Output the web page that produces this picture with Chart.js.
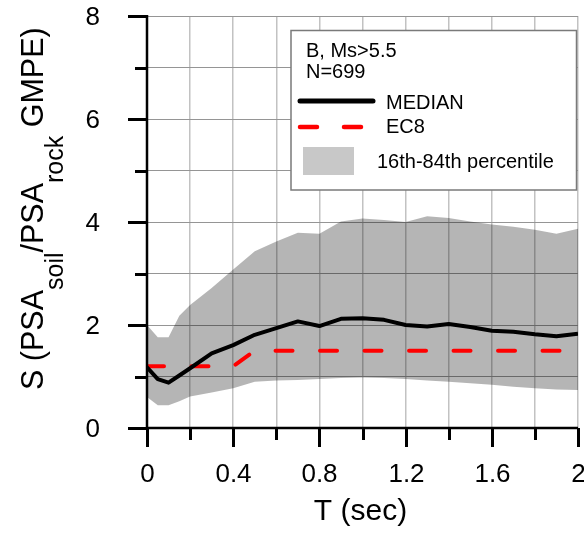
<!DOCTYPE html>
<html>
<head>
<meta charset="utf-8">
<script src="https://cdn.jsdelivr.net/npm/chart.js@4.4.1/dist/chart.umd.min.js"></script>
<style>
  html, body { margin: 0; padding: 0; background: #fff; }
  #wrap { width: 584px; height: 542px; }
</style>
</head>
<body>
<div id="wrap"><canvas id="chart"></canvas></div>
<script>
// period axis (s) and amplification values
var periods = [0, 0.05, 0.1, 0.15, 0.2, 0.3, 0.4, 0.5, 0.6, 0.7, 0.8, 0.9, 1.0, 1.1, 1.2, 1.3, 1.4, 1.5, 1.6, 1.7, 1.8, 1.9, 2.0];
var median = [1.18, 0.95, 0.88, 1.02, 1.16, 1.45, 1.61, 1.81, 1.94, 2.07, 1.98, 2.12, 2.13, 2.10, 2.00, 1.97, 2.02, 1.96, 1.89, 1.87, 1.82, 1.78, 1.83];
var p84 = [2.00, 1.76, 1.76, 2.18, 2.39, 2.72, 3.08, 3.43, 3.62, 3.79, 3.77, 4.01, 4.07, 4.04, 4.00, 4.11, 4.08, 4.01, 3.95, 3.91, 3.85, 3.77, 3.87];
var p16 = [0.60, 0.44, 0.44, 0.52, 0.61, 0.69, 0.77, 0.90, 0.92, 0.93, 0.95, 0.97, 0.98, 0.97, 0.95, 0.92, 0.90, 0.87, 0.84, 0.80, 0.77, 0.75, 0.74];

// EC8 soil B / rock ratio
var ec8Periods = [0, 0.4, 0.5, 2.0];
var ec8Ratio = [1.2, 1.2, 1.5, 1.5];

var xTickLabels = ['0', '0.4', '0.8', '1.2', '1.6', '2'];
var yTickLabels = ['0', '2', '4', '6', '8'];

var FONT = "'Liberation Sans', Arial, sans-serif";

function pts(xs, ys) {
    return xs.map(function (x, i) { return { x: x, y: ys[i] }; });
}

// tick marks + labels, axis lines, titles (y has subscripts), legend box
var decorations = {
    id: 'decorations',
    afterDraw: function (chart) {
        var ctx = chart.ctx;
        var ca = chart.chartArea;
        var xs = chart.scales.x, ys = chart.scales.y;
        ctx.save();

        ctx.strokeStyle = '#000';
        ctx.fillStyle = '#000';
        ctx.lineWidth = 3;
        ctx.font = '26px ' + FONT;
        ys.ticks.forEach(function (t) {
            var y = Math.round(ys.getPixelForValue(t.value)) + 0.5;
            var len = t.label ? 19 : 12;
            ctx.beginPath(); ctx.moveTo(ca.left - len, y); ctx.lineTo(ca.left, y); ctx.stroke();
            if (t.label) {
                ctx.textAlign = 'right';
                ctx.textBaseline = 'middle';
                ctx.fillText(t.label, ca.left - 47, y + 1);
            }
        });
        xs.ticks.forEach(function (t) {
            var x = Math.round(xs.getPixelForValue(t.value)) + 0.5;
            var len = t.label ? 19 : 12;
            ctx.beginPath(); ctx.moveTo(x, ca.bottom); ctx.lineTo(x, ca.bottom + len); ctx.stroke();
            if (t.label) {
                ctx.textAlign = 'center';
                ctx.textBaseline = 'alphabetic';
                ctx.fillText(t.label, x, ca.bottom + 54);
            }
        });
        ctx.lineWidth = 2.5;
        ctx.beginPath();
        ctx.moveTo(ca.left, ca.top - 1);
        ctx.lineTo(ca.left, ca.bottom);
        ctx.lineTo(ca.right, ca.bottom);
        ctx.stroke();

        // y title
        ctx.textBaseline = 'alphabetic';
        ctx.textAlign = 'left';
        ctx.translate(43, 390);
        ctx.rotate(-Math.PI / 2);
        var parts = [['S (PSA', 0], ['soil', 1], ['/PSA', 0], ['rock', 1], [' GMPE)', 0]];
        var cx = 0;
        parts.forEach(function (p) {
            ctx.font = (p[1] ? '25px ' : '30.5px ') + FONT;
            ctx.fillText(p[0], cx, p[1] ? 20 : 0);
            cx += ctx.measureText(p[0]).width;
        });
        ctx.setTransform(1, 0, 0, 1, 0, 0);

        // x title
        ctx.font = '30px ' + FONT;
        ctx.textAlign = 'center';
        ctx.fillText('T (sec)', (ca.left + ca.right) / 2 - 2, 520);

        // legend
        ctx.fillStyle = '#fff';
        ctx.fillRect(291, 30, 286, 160);
        ctx.strokeStyle = '#7a7a7a';
        ctx.lineWidth = 1.5;
        ctx.strokeRect(291, 30.5, 285.5, 159.5);

        ctx.fillStyle = '#000';
        ctx.textAlign = 'left';
        ctx.font = '20px ' + FONT;
        ctx.fillText('B, Ms>5.5', 306, 57);
        ctx.fillText('N=699', 306, 78);
        ctx.fillText('MEDIAN', 386, 109);
        ctx.fillText('EC8', 386, 133);
        ctx.fillText('16th-84th percentile', 377, 168);

        ctx.lineCap = 'round';
        ctx.strokeStyle = '#000';
        ctx.lineWidth = 5;
        ctx.beginPath(); ctx.moveTo(300, 101); ctx.lineTo(373, 101); ctx.stroke();
        ctx.strokeStyle = '#ff0000';
        ctx.lineWidth = 4.5;
        ctx.beginPath(); ctx.moveTo(300, 127); ctx.lineTo(317, 127); ctx.stroke();
        ctx.beginPath(); ctx.moveTo(344, 127); ctx.lineTo(361, 127); ctx.stroke();
        ctx.fillStyle = '#c8c8c8';
        ctx.fillRect(303, 147, 51, 28);

        ctx.restore();
    }
};

new Chart(document.getElementById('chart'), {
    type: 'line',
    data: {
        datasets: [
            {
                label: 'MEDIAN',
                data: pts(periods, median),
                borderColor: '#000',
                borderWidth: 4,
                pointRadius: 0,
                borderJoinStyle: 'round',
                fill: false
            },
            {
                label: 'EC8',
                data: pts(ec8Periods, ec8Ratio),
                borderColor: '#ff0000',
                borderWidth: 4,
                borderDash: [17, 27.5],
                borderCapStyle: 'round',
                pointRadius: 0,
                fill: false
            },
            {
                label: '84th',
                data: pts(periods, p84),
                borderWidth: 0,
                borderColor: 'rgba(0,0,0,0)',
                backgroundColor: 'rgba(0,0,0,0.29)',
                pointRadius: 0,
                fill: '+1'
            },
            {
                label: '16th',
                data: pts(periods, p16),
                borderWidth: 0,
                borderColor: 'rgba(0,0,0,0)',
                pointRadius: 0,
                fill: false
            }
        ]
    },
    options: {
        responsive: true,
        maintainAspectRatio: false,
        animation: false,
        devicePixelRatio: 1,
        layout: { padding: { top: 16, right: 6, left: 0, bottom: 0 } },
        plugins: {
            legend: { display: false },
            tooltip: { enabled: false }
        },
        scales: {
            x: {
                type: 'linear',
                min: 0,
                max: 2,
                afterFit: function (scale) {
                    scale.height = 114;
                    scale.paddingLeft = 0;
                    scale.paddingRight = 0;
                },
                border: { display: false },
                grid: { color: '#c2c2c2', lineWidth: 1.5, drawTicks: false },
                ticks: {
                    display: false,
                    stepSize: 0.2,
                    autoSkip: false,
                    maxRotation: 0,
                    callback: function (v) {
                        var k = Math.round(v * 10);
                        return k % 4 === 0 ? xTickLabels[k / 4] : '';
                    }
                }
            },
            y: {
                min: 0,
                max: 8,
                afterFit: function (scale) {
                    scale.width = 147;
                    scale.paddingTop = 0;
                    scale.paddingBottom = 0;
                },
                border: { display: false },
                grid: { color: '#959595', lineWidth: 1, drawTicks: false },
                ticks: {
                    display: false,
                    stepSize: 1,
                    autoSkip: false,
                    callback: function (v) {
                        return v % 2 === 0 ? yTickLabels[v / 2] : '';
                    }
                }
            }
        }
    },
    plugins: [decorations]
});
</script>
</body>
</html>
